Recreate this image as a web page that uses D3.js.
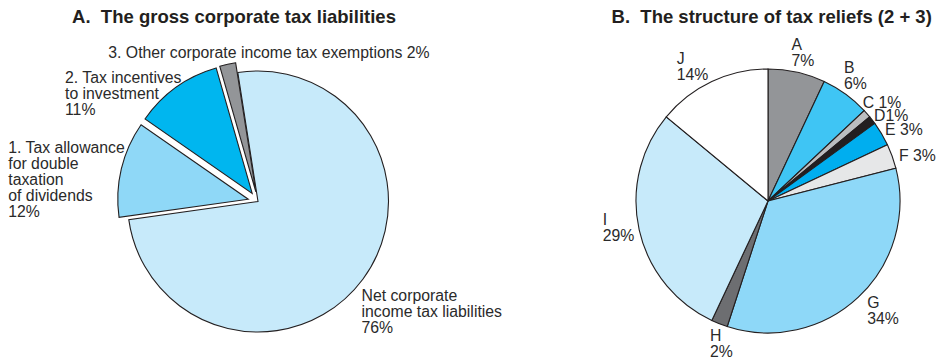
<!DOCTYPE html>
<html>
<head>
<meta charset="utf-8">
<script src="https://cdn.jsdelivr.net/npm/d3@7/dist/d3.min.js"></script>
<style>
  html, body { margin: 0; padding: 0; background: #ffffff; }
  svg { display: block; font-family: "Liberation Sans", Arial, Helvetica, sans-serif; }
  .title { font-weight: bold; font-size: 18.5px; fill: #231f20; white-space: pre; }
  .lbl { font-size: 15.8px; fill: #2a2a2a; }
</style>
</head>
<body>
<svg id="chart" width="940" height="361"></svg>
<script>
// ---- Data ----
const titleA = "A.  The gross corporate tax liabilities";
const titleB = "B.  The structure of tax reliefs (2 + 3)";

const catsA = [
  "Net corporate income tax liabilities",
  "1. Tax allowance for double taxation of dividends",
  "2. Tax incentives to investment",
  "3. Other corporate income tax exemptions"
];
const valsA = [76, 12, 11, 2];
const colorsA = ["#c7eafa", "#8fd8f7", "#00b6ef", "#939598"];

const catsB = ["A", "B", "C", "D", "E", "F", "G", "H", "I", "J"];
const valsB = [7, 6, 1, 1, 3, 3, 34, 2, 29, 14];
const colorsB = ["#939598", "#3fc5f4", "#bcbec0", "#231f20", "#00aeef",
                 "#e6e7e8", "#8ed8f8", "#6d6e71", "#c7eafa", "#ffffff"];

// ---- Layout ----
const pieA = { cx: 258, cy: 201.5, r: 130.5, start: -8.9 * Math.PI / 180, explode: [0, 10, 10, 10] };
const pieB = { cx: 768, cy: 201, r: 132, start: 0 };

// label text lines (value appended as its own line, or on the last line with a joiner)
const labelA = [
  { lines: ["Net corporate", "income tax liabilities"], join: null, x: 361.5, y: 300.5 },
  { lines: ["1. Tax allowance", "for double", "taxation", "of dividends"], join: null, x: 8.3, y: 153 },
  { lines: ["2. Tax incentives", "to investment"], join: null, x: 65, y: 82.5 },
  { lines: ["3. Other corporate income tax exemptions"], join: " ", x: 108.3, y: 58 }
];
const labelB = [
  { join: null, x: 791.5, y: 50 },
  { join: null, x: 844, y: 72.7 },
  { join: " ", x: 862.7, y: 108.3 },
  { join: "", x: 874, y: 120.7 },
  { join: " ", x: 885, y: 135 },
  { join: " ", x: 899, y: 161 },
  { join: null, x: 867.3, y: 308.3 },
  { join: null, x: 710, y: 340.5 },
  { join: null, x: 602.7, y: 225 },
  { join: null, x: 676.7, y: 64.3 }
];
const lineH = 16;

const svg = d3.select("#chart");

function textLines(spec, name, value) {
  const pct = value + "%";
  const lines = (spec.lines ? spec.lines.slice() : [name]);
  if (spec.join === null) lines.push(pct);
  else lines[lines.length - 1] = lines[lines.length - 1] + spec.join + pct;
  return lines;
}

function drawLabel(g, spec, name, value) {
  const t = g.append("text").attr("class", "lbl")
    .attr("x", spec.x).attr("y", spec.y);
  textLines(spec, name, value).forEach((s, i) => {
    t.append("tspan").attr("x", spec.x).attr("y", spec.y + i * lineH).text(s);
  });
}

// ---- Pie A: gross corporate tax liabilities ----
{
  const pie = d3.pie().sort(null).value(d => d.v)
    .startAngle(pieA.start).endAngle(pieA.start + 2 * Math.PI);
  const arc = d3.arc().innerRadius(0).outerRadius(pieA.r);
  const data = catsA.map((c, i) => ({ c, v: valsA[i], i }));
  const g = svg.append("g").attr("transform", `translate(${pieA.cx},${pieA.cy})`);
  g.selectAll("path").data(pie(data)).join("path")
    .attr("d", arc)
    .attr("transform", d => {
      const mid = (d.startAngle + d.endAngle) / 2;
      const k = pieA.explode[d.data.i];
      return `translate(${k * Math.sin(mid)},${-k * Math.cos(mid)})`;
    })
    .attr("fill", d => colorsA[d.data.i])
    .attr("stroke", "#231f20")
    .attr("stroke-width", 1.1)
    .attr("stroke-linejoin", "miter");

  svg.append("text").attr("class", "title")
    .attr("x", 234).attr("y", 22.5).attr("text-anchor", "middle").text(titleA);

  const lg = svg.append("g");
  catsA.forEach((c, i) => drawLabel(lg, labelA[i], c, valsA[i]));
}

// ---- Pie B: structure of tax reliefs ----
{
  const pie = d3.pie().sort(null).value(d => d.v)
    .startAngle(pieB.start).endAngle(pieB.start + 2 * Math.PI);
  const arc = d3.arc().innerRadius(0).outerRadius(pieB.r);
  const data = catsB.map((c, i) => ({ c, v: valsB[i], i }));
  const g = svg.append("g").attr("transform", `translate(${pieB.cx},${pieB.cy})`);
  g.selectAll("path").data(pie(data)).join("path")
    .attr("d", arc)
    .attr("fill", d => colorsB[d.data.i])
    .attr("stroke", "#231f20")
    .attr("stroke-width", 1.1);

  svg.append("text").attr("class", "title")
    .attr("x", 771.7).attr("y", 22.5).attr("text-anchor", "middle").text(titleB);

  const lg = svg.append("g");
  catsB.forEach((c, i) => drawLabel(lg, labelB[i], c, valsB[i]));
}
</script>
</body>
</html>
